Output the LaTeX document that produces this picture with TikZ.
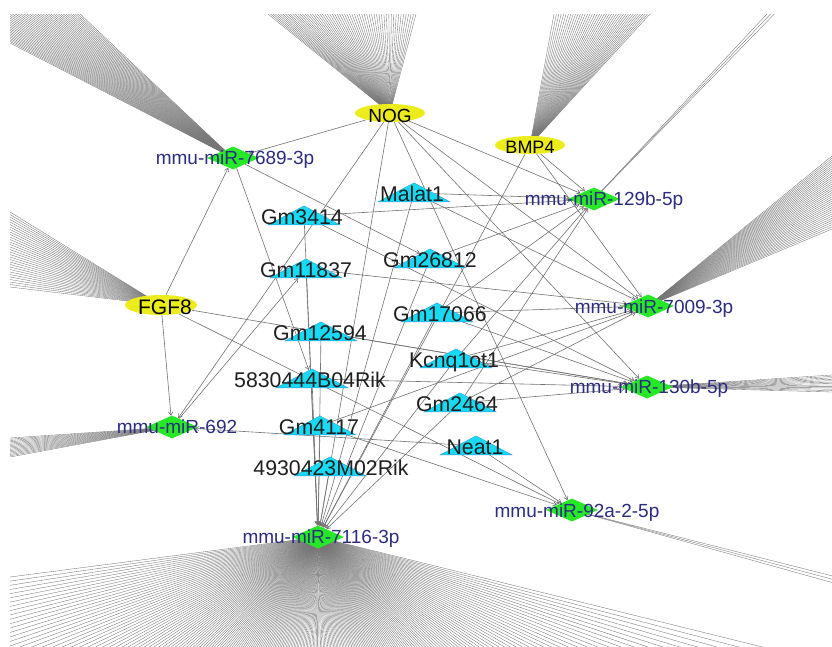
\documentclass[tikz,border=0pt]{standalone}
\usepackage{fontspec}
\setmainfont{Liberation Sans}
\usetikzlibrary{shapes.geometric,arrows.meta}
\pgfdeclarelayer{bg}
\pgfsetlayers{bg,main}
\definecolor{genefill}{RGB}{236,236,28}
\definecolor{mirfill}{RGB}{38,232,38}
\definecolor{lncfill}{RGB}{24,218,244}
\definecolor{lncline}{RGB}{40,150,220}
\definecolor{mirtext}{RGB}{44,44,128}
\definecolor{edgecol}{RGB}{115,115,115}
\definecolor{fancol}{RGB}{118,118,118}
\tikzset{
  gene/.style={ellipse, fill=genefill, minimum width=70pt, minimum height=18pt, inner sep=0pt},
  mir/.style={diamond, fill=mirfill, minimum width=52pt, minimum height=23pt, inner sep=0pt},
  lnc/.style={isosceles triangle, isosceles triangle stretches, shape border rotate=90,
    fill=lncfill, draw=lncline, line width=0.3pt, minimum width=72pt, minimum height=19pt,
    inner sep=0pt, anchor=lower side},
  genelab/.style={text=black, anchor=base, inner sep=0pt},
  mirlab/.style={font=\fontsize{19}{19}\selectfont, text=mirtext, anchor=base, inner sep=0pt},
  lnclab/.style={font=\fontsize{21.3}{21.3}\selectfont, text=black!88, anchor=base, inner sep=0pt},
  edge/.style={draw=edgecol, line width=0.6pt, -{Straight Barb[length=3.5pt,width=4.5pt]}},
  fan/.style={draw=fancol, line width=0.35pt},
}
\begin{document}
\begin{tikzpicture}[x=1pt,y=-1pt]
\begin{pgfonlayer}{bg}
  \fill[white] (0,0) rectangle (832,646);
\end{pgfonlayer}
\useasboundingbox (0,0) rectangle (832,646);

% gene nodes
\node[gene] (nog) at (390,113) {};
\node[gene] (bmp) at (530,145) {};
\node[gene, minimum width=72pt, minimum height=20pt] (fgf) at (161,305) {};
\node[genelab, font=\fontsize{19}{19}\selectfont] (nogl) at (390,122) {NOG};
\node[genelab, font=\fontsize{18}{18}\selectfont] (bmpl) at (530,153) {BMP4};
\node[genelab, font=\fontsize{21}{21}\selectfont] (fgfl) at (165,314) {FGF8};

% miRNA nodes
\node[mir] (m7689) at (233,158) {};
\node[mir] (m129) at (594,199) {};
\node[mir] (m7009) at (648,306) {};
\node[mir] (m130) at (647,387) {};
\node[mir] (m92) at (572,510) {};
\node[mir] (m7116) at (318,537) {};
\node[mir] (m692) at (172,427) {};
\node[mirlab] (l7689) at (235,164) {mmu-miR-7689-3p};
\node[mirlab] (l129) at (604,205) {mmu-miR-129b-5p};
\node[mirlab] (l7009) at (654,313) {mmu-miR-7009-3p};
\node[mirlab] (l130) at (649,393) {mmu-miR-130b-5p};
\node[mirlab] (l92) at (577,517) {mmu-miR-92a-2-5p};
\node[mirlab] (l7116) at (321,543) {mmu-miR-7116-3p};
\node[mirlab] (l692) at (177,433) {mmu-miR-692};

% lncRNA nodes
\node[lnc] (malat) at (414,202) {};
\node[lnc] (g3414) at (304,225) {};
\node[lnc] (g11837) at (306,278) {};
\node[lnc] (g26812) at (430,268) {};
\node[lnc] (g17066) at (437,322) {};
\node[lnc] (g12594) at (321,341) {};
\node[lnc] (r5830) at (312,388) {};
\node[lnc] (kcnq) at (456,368) {};
\node[lnc] (g2464) at (460,412) {};
\node[lnc] (g4117) at (320,435) {};
\node[lnc] (neat) at (476,455) {};
\node[lnc] (r4930) at (330,476) {};
\node[lnclab] (lmalat) at (412,201) {Malat1};
\node[lnclab] (l3414) at (302,224) {Gm3414};
\node[lnclab] (l11837) at (306,277) {Gm11837};
\node[lnclab] (l26812) at (430,267) {Gm26812};
\node[lnclab] (l17066) at (440,321) {Gm17066};
\node[lnclab] (l12594) at (320,340) {Gm12594};
\node[lnclab] (l5830) at (310,387) {5830444B04Rik};
\node[lnclab] (lkcnq) at (454,367) {Kcnq1ot1};
\node[lnclab] (l2464) at (457,411) {Gm2464};
\node[lnclab] (l4117) at (319,434) {Gm4117};
\node[lnclab] (lneat) at (475,454) {Neat1};
\node[lnclab] (l4930) at (331,475) {4930423M02Rik};

\begin{pgfonlayer}{bg}
  \begin{scope}
    \clip (10,14) rectangle (832,646);
    % fans of edges leaving the view
    \foreach \i in {0,...,44}{\draw[fan] (m7689.center) -- ++({-446+140*\i/44},{-230-58*\i/44});}
    \foreach \i in {0,...,60}{\draw[fan] (nog.center) -- ++({-183+222*\i/60},-148.5);}
    \foreach \i in {0,...,40}{\draw[fan] (bmp.center) -- ++({36+144*\i/40},-196.5);}
    \foreach \d in {186,190,194}{\draw[fan] (m129.center) -- ++(\d,-199);}
    \foreach \i in {0,...,34}{\draw[fan] (m7009.center) -- ++(276,{-225+109.5*\i/34});}
    \foreach \i in {0,...,12}{\draw[fan] (m130.center) -- ++(277.5,{-18+25.5*\i/12});}
    \foreach \d in {79,83,87}{\draw[fan] (m92.center) -- ++(312,\d);}
    \foreach \i in {0,...,15}{\draw[fan] (m692.center) -- ++(-243,{16.5+28.5*\i/15});}
    \foreach \i in {0,...,30}{\draw[fan] (fgf.center) -- ++(-226.5,{-139.5+112.5*\i/30});}
    \foreach \i in {0,...,210}{
      \pgfmathsetmacro{\t}{13.9+0.7557*\i}
      \draw[fan] (m7116.center) -- ++({900*cos(\t)},{900*sin(\t)});}
  \end{scope}
  % network edges
  \foreach \a/\b in {
    nog/m7689, nog/m129, nog/m7009, nog/m130, nog/m92, nog/m7116, nog/m692,
    bmp/m129, bmp/m7009, bmp/m7116,
    fgf/m7689, fgf/m692, fgf/m130, fgf/m92,
    g3414/m7116, g11837/m7116, g12594/m7116, r5830/m7116, g4117/m7116, r4930/m7116,
    malat/m7116, g26812/m7116, g17066/m7116, kcnq/m7116, g2464/m7116,
    m7689/r5830, m7689/g26812,
    malat/m129, g3414/m129, g26812/m129, g17066/m129, kcnq/m129, g2464/m129,
    g17066/m7009, kcnq/m7009, g2464/m7009, g4117/m7009, malat/m7009, g11837/m7009,
    kcnq/m130, r5830/m130, g12594/m130, g3414/m130, g17066/m130, g2464/m130,
    m692/g11837, neat/m692,
    neat/m92, g4117/m92}
    {\draw[edge] (\a) -- (\b);}
\end{pgfonlayer}
\end{tikzpicture}
\end{document}
